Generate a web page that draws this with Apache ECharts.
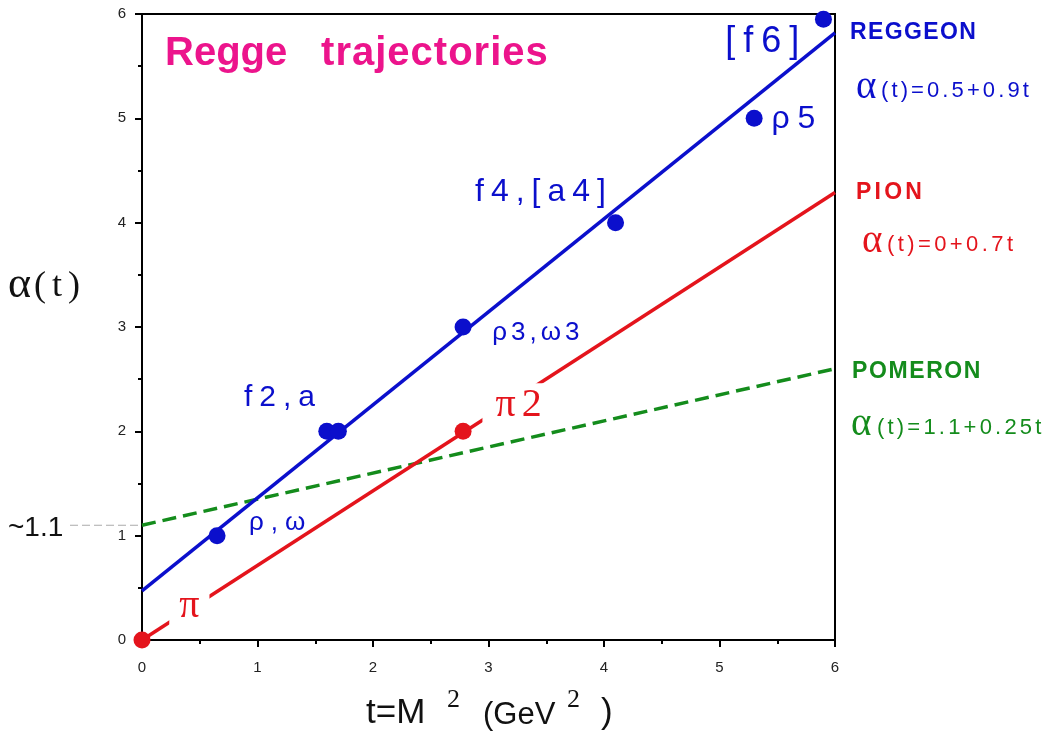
<!DOCTYPE html>
<html><head><meta charset="utf-8">
<script src="https://cdn.jsdelivr.net/npm/echarts@6/dist/echarts.min.js"></script>
<style>html,body{margin:0;padding:0;background:#fff}#c{width:1055px;height:736px}</style>
</head><body><div id="c"></div>
<script>
// ---- data ----
const tickValues = [0, 1, 2, 3, 4, 5, 6];
const reggeonLine = [[0, 0.47], [6, 5.82]];
const pionLine = [[0, 0], [6, 4.29]];
const pomeronLine = [[0, 1.1], [6, 2.6]];
const reggeonPoints = [[0.65, 1], [1.6, 2], [1.7, 2], [2.78, 3], [4.1, 4], [5.3, 5], [5.9, 5.95]];
const pionPoints = [[0, 0], [2.78, 2]];
const reggeonNames = ['ρ,ω', 'f2,a', 'ρ3,ω3', 'f4,[a4]', 'ρ5', '[f6]'];
const reggeonNameAt = [[1.17, 1.12], [1.19, 2.32], [3.41, 2.94], [3.45, 4.29], [5.64, 4.99], [5.37, 5.73]];
const reggeonNameSize = [26, 30, 26, 32, 32, 36];
const reggeonNameGap = [7, 7, 4, 7, 8, 8];
const pionNames = ['π', 'π2'];
const pionNameAt = [[0.41, 0.32], [3.26, 2.25]];
const interceptValue = 1.1;

const BLUE = '#0b0fcc', RED = '#e4141c', GREEN = '#148c1c', PINK = '#ec148c';

const chart = echarts.init(document.getElementById('c'));

// wrap every character in its own rich token so spacing can be added
function spaced(str, key) {
  return Array.from(str).map(ch => '{' + key + '|' + ch + '}').join('');
}

function labelSeries(names, at, color, sizes, gaps, family, bg) {
  return {
    type: 'scatter', symbolSize: 0, silent: true, z: 10,
    itemStyle: { opacity: 1 },
    data: names.map((n, i) => ({
      value: [at[i][0], at[i][1]],
      itemStyle: { opacity: 1 },
      label: {
        show: true, position: 'inside', formatter: spaced(n, 'c'),
        backgroundColor: bg || 'transparent', padding: bg ? [2, 10, 2, 10] : 0,
        rich: { c: { color: color, fontSize: sizes[i], fontFamily: family, padding: [0, gaps[i] / 2, 0, gaps[i] / 2] } }
      }
    }))
  };
}

const axisCommon = {
  type: 'value', min: 0, max: 6, interval: 1,
  axisLine: { show: true, onZero: false, lineStyle: { color: '#000', width: 2 } },
  axisTick: { show: true, inside: false, length: 7, lineStyle: { color: '#000', width: 2 } },
  minorTick: { show: true, splitNumber: 2, length: 4, lineStyle: { color: '#000', width: 2 } },
  splitLine: { show: false },
  axisLabel: { color: '#222', fontSize: 15, fontFamily: 'Liberation Sans', formatter: v => String(v) }
};

chart.setOption({
  animation: false,
  backgroundColor: '#fff',
  grid: { left: 142, right: 220, top: 14, bottom: 96, show: true, borderColor: '#000', borderWidth: 2 },
  xAxis: Object.assign({}, axisCommon, { axisLabel: Object.assign({}, axisCommon.axisLabel, { margin: 20 }) }),
  yAxis: Object.assign({}, axisCommon, { axisLabel: Object.assign({}, axisCommon.axisLabel, { margin: 16 }) }),
  series: [
    { type: 'line', data: pomeronLine, showSymbol: false, z: 2, lineStyle: { color: GREEN, width: 3.5, type: [14, 7] } },
    { type: 'line', data: pionLine, showSymbol: false, z: 3, lineStyle: { color: RED, width: 3.5 } },
    { type: 'line', data: reggeonLine, showSymbol: false, z: 4, lineStyle: { color: BLUE, width: 3.5 } },
    { type: 'scatter', data: reggeonPoints, symbolSize: 17, z: 5, itemStyle: { color: BLUE, opacity: 1 } },
    { type: 'scatter', data: pionPoints, symbolSize: 17, z: 5, itemStyle: { color: RED, opacity: 1 } },
    labelSeries(reggeonNames, reggeonNameAt, BLUE, reggeonNameSize, reggeonNameGap, 'Liberation Sans'),
    labelSeries(pionNames, pionNameAt, RED, [40, 40], [0, 6], 'Liberation Serif', '#fff')
  ]
});

const p0 = chart.convertToPixel({ gridIndex: 0 }, [0, interceptValue]);

function heading(x, y, color, str, pad) {
  return { type: 'text', left: x, top: y, style: { text: spaced(str, 'h'), rich: {
    h: { fill: color, fontSize: 23, fontWeight: 'bold', fontFamily: 'Liberation Sans', padding: [0, pad, 0, pad] } } } };
}
// alpha glyph and the rest of the formula, both sitting on the same baseline
function formula(x, baseline, color, rest, restLeft, pad) {
  return [
    { type: 'text', left: x, top: baseline - 30, style: { text: 'α', fill: color, fontSize: 39, fontFamily: 'Liberation Serif' } },
    { type: 'text', left: restLeft, top: baseline - 18, style: { text: spaced(rest, 'r'), rich: {
      r: { fill: color, fontSize: 22, fontFamily: 'Liberation Sans', padding: [0, pad, 0, pad] } } } }
  ];
}
const sans35 = { fill: '#111', fontSize: 35, fontFamily: 'Liberation Sans' };
const sans31 = { fill: '#111', fontSize: 31, fontFamily: 'Liberation Sans' };
const serif26 = { fill: '#111', fontSize: 26, fontFamily: 'Liberation Serif' };

chart.setOption({
  graphic: [
    { type: 'text', left: 165, top: 34, style: { text: '{t|Regge}{t|   }' + spaced('trajectories', 'u'), rich: {
        t: { fill: PINK, fontSize: 40, fontWeight: 'bold', fontFamily: 'Liberation Sans' },
        u: { fill: PINK, fontSize: 40, fontWeight: 'bold', fontFamily: 'Liberation Sans', padding: [0, 0.5, 0, 0.5] } } } },
    heading(850, 21, BLUE, 'REGGEON', 0.7),
    ...formula(856, 98, BLUE, '(t)=0.5+0.9t', 881, 1.55),
    heading(856, 181, RED, 'PION', 1.6),
    ...formula(862, 252, RED, '(t)=0+0.7t', 887, 1.7),
    heading(852, 360, GREEN, 'POMERON', 0.8),
    ...formula(851, 435, GREEN, '(t)=1.1+0.25t', 877, 1.6),
    // y-axis title
    { type: 'text', left: 8, top: 263, style: { text: 'α', fill: '#111', fontSize: 44, fontFamily: 'Liberation Serif' } },
    { type: 'text', left: 34, top: 269, style: { text: spaced('(t)', 'p'), rich: { p: { fill: '#111', fontSize: 36, fontFamily: 'Liberation Serif', padding: [0, 3, 0, 3] } } } },
    // x-axis title
    { type: 'text', left: 366, top: 696, style: Object.assign({ text: 't=M' }, sans35) },
    { type: 'text', left: 447, top: 687, style: Object.assign({ text: '2' }, serif26) },
    { type: 'text', left: 483, top: 700, style: Object.assign({ text: '(GeV' }, sans31) },
    { type: 'text', left: 567, top: 687, style: Object.assign({ text: '2' }, serif26) },
    { type: 'text', left: 601, top: 696, style: Object.assign({ text: ')' }, sans35) },
    // intercept marker
    { type: 'line', z: 1, shape: { x1: 70, y1: p0[1], x2: p0[0], y2: p0[1] }, style: { stroke: '#aaa', lineWidth: 1.2, lineDash: [8, 4] } },
    { type: 'text', left: 8, top: p0[1] - 11, style: { text: '~1.1', fill: '#111', fontSize: 28, fontFamily: 'Liberation Sans' } }
  ]
});
</script></body></html>
